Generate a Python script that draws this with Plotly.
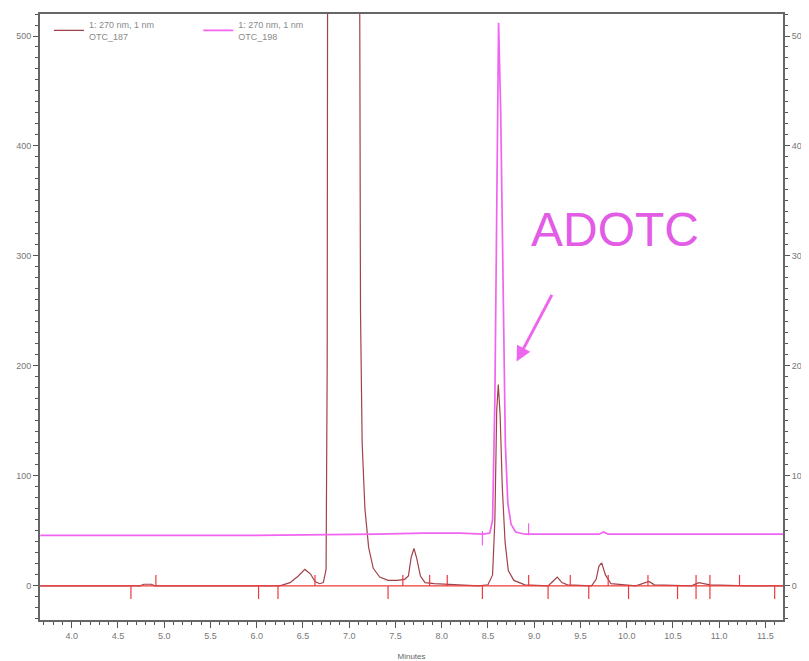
import plotly.graph_objects as go

# ---- data ----
red_name = "1: 270 nm, 1 nm<br>OTC_187"
pink_name = "1: 270 nm, 1 nm<br>OTC_198"

red_t = [3.66, 4.74, 4.78, 4.86, 4.90, 6.25, 6.36, 6.45, 6.52, 6.58, 6.63, 6.68, 6.72,
         6.75, 6.762, 6.772, 6.80, 6.95, 7.10, 7.112, 7.122, 7.14, 7.17, 7.21, 7.26,
         7.33, 7.42, 7.52, 7.60, 7.64, 7.67, 7.70, 7.73, 7.77, 7.82, 7.92, 8.10, 8.40,
         8.50, 8.55, 8.575, 8.595, 8.612, 8.632, 8.655, 8.685, 8.72, 8.78, 8.90, 9.15,
         9.20, 9.25, 9.30, 9.36, 9.62, 9.67, 9.70, 9.73, 9.77, 9.83, 10.10, 10.19,
         10.24, 10.30, 10.70, 10.78, 10.83, 10.90, 11.30, 11.69]
red_v = [0, 0, 1.5, 1.5, 0, 0, 3, 9, 15, 11, 4, 2, 3,
         15, 200, 1000, 2500, 3000, 1000, 450, 250, 130, 70, 35, 16,
         8, 5, 5, 6, 9, 26, 34, 25, 9, 3, 2, 1, 0,
         1, 10, 60, 160, 183, 155, 90, 40, 14, 5, 1, 0,
         4, 8, 3, 1, 0, 6, 18, 21, 10, 2, 0, 3,
         4, 1, 0, 3, 2, 1, 0, 0]

pink_t = [3.66, 6.0, 7.3, 7.8, 8.2, 8.45, 8.52, 8.55, 8.575, 8.595, 8.615, 8.638,
          8.662, 8.688, 8.715, 8.75, 8.80, 8.90, 9.70, 9.75, 9.80, 11.69]
pink_v = [46, 46, 47, 48, 48, 47, 48, 60, 170, 380, 512, 430,
          260, 130, 75, 56, 49, 47, 47, 49, 47, 47]

red_up_ticks = [4.91, 6.63, 7.58, 7.87, 8.06, 8.94, 9.39, 9.80, 10.23, 10.75, 10.90, 11.22]
red_down_ticks = [4.64, 6.02, 6.23, 7.42, 8.44, 9.15, 9.59, 10.02, 10.55, 10.75, 10.90, 11.60]
pink_up_ticks = [8.94]
pink_down_ticks = [8.44]

x_range = [3.657, 11.69]
y_range = [-31, 520]

red_col = "#a0424a"
base_col = "#ee3a3a"
pink_col = "#f064f0"


def segs(times, y0, y1):
    xs, ys = [], []
    for t in times:
        xs += [t, t, None]
        ys += [y0, y1, None]
    return xs, ys


fig = go.Figure()

# red baseline (also carries the right-hand axis)
fig.add_trace(go.Scatter(x=x_range, y=[0, 0], mode="lines",
                         line=dict(color=base_col, width=1.2),
                         showlegend=False, hoverinfo="skip", yaxis="y2"))

fig.add_trace(go.Scatter(x=red_t, y=red_v, mode="lines", name=red_name,
                         line=dict(color=red_col, width=1.2), legend="legend"))
fig.add_trace(go.Scatter(x=pink_t, y=pink_v, mode="lines", name=pink_name,
                         line=dict(color=pink_col, width=1.7), legend="legend2"))

ux, uy = segs(red_up_ticks, 0, 10)
dx, dy = segs(red_down_ticks, 0, -12)
fig.add_trace(go.Scatter(x=ux + dx, y=uy + dy, mode="lines",
                         line=dict(color=base_col, width=1.2),
                         showlegend=False, hoverinfo="skip"))
pux, puy = segs(pink_up_ticks, 46, 57)
pdx, pdy = segs(pink_down_ticks, 50, 37)
fig.add_trace(go.Scatter(x=pux + pdx, y=puy + pdy, mode="lines",
                         line=dict(color=pink_col, width=1.2),
                         showlegend=False, hoverinfo="skip"))

tickfont = dict(family="Liberation Sans, Arial", size=9, color="#777777")
legfont = dict(size=9, color="#8a8a8a", family="Liberation Sans, Arial")

# the page body has an 8px margin, so the figure is sized to end at the window edge
fig.update_layout(
    width=801, height=653,
    margin=dict(l=32, r=26, t=6, b=41, autoexpand=False),
    paper_bgcolor="white", plot_bgcolor="white",
    font=dict(family="Liberation Sans, Arial"),
    xaxis=dict(range=x_range, showgrid=False, zeroline=False, automargin=False,
               tickmode="linear", tick0=4.0, dtick=0.5, tickformat=".1f",
               ticks="outside", ticklen=6, tickcolor="#555555",
               minor=dict(dtick=0.1, ticks="outside", ticklen=3, tickcolor="#555555"),
               showline=True, linecolor="#666666", linewidth=2, mirror=True,
               tickfont=tickfont,
               title=dict(text="Minutes", font=dict(size=8, color="#666666"), standoff=14)),
    yaxis=dict(range=y_range, showgrid=False, zeroline=False, automargin=False,
               tickmode="linear", tick0=0, dtick=100,
               ticks="outside", ticklen=5, tickcolor="#555555",
               minor=dict(dtick=10, ticks="outside", ticklen=3, tickcolor="#555555"),
               showline=True, linecolor="#666666", linewidth=2, mirror=True,
               tickfont=tickfont),
    yaxis2=dict(range=y_range, overlaying="y", side="right", showgrid=False,
                zeroline=False, automargin=False, tickmode="linear", tick0=0, dtick=100,
                ticks="outside", ticklen=5, tickcolor="#555555",
                minor=dict(dtick=10, ticks="outside", ticklen=3, tickcolor="#555555"),
                showline=True, linecolor="#666666", linewidth=2,
                tickfont=tickfont),
    legend=dict(x=0.012, y=1.003, xanchor="left", yanchor="top",
                bgcolor="rgba(0,0,0,0)", font=legfont, itemwidth=30),
    legend2=dict(x=0.213, y=1.003, xanchor="left", yanchor="top",
                 bgcolor="rgba(0,0,0,0)", font=legfont, itemwidth=30),
    showlegend=True,
)

fig.add_annotation(x=9.87, y=324, text="ADOTC", showarrow=False,
                   font=dict(size=48, color="#e35ce6", family="Liberation Sans, Arial"))
fig.add_annotation(x=8.81, y=204, ax=9.20, ay=266, axref="x", ayref="y",
                   text="", showarrow=True, arrowhead=2, arrowsize=1,
                   arrowwidth=3, arrowcolor="#ee66ee")

fig.write_html("out.html")
